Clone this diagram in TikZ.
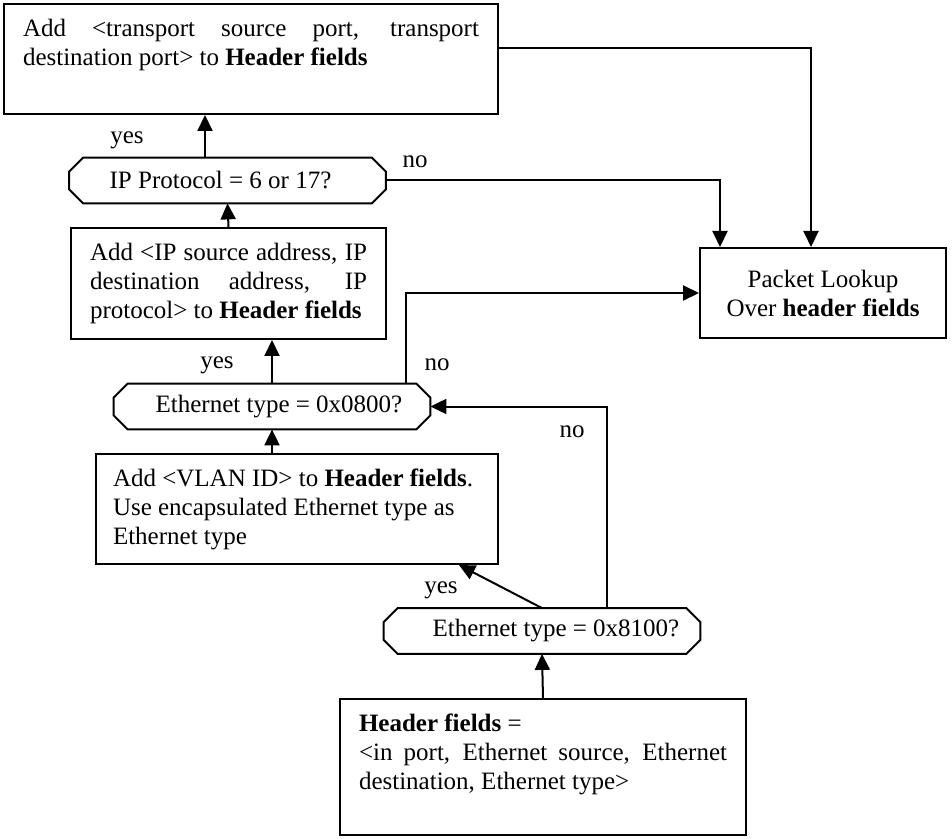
\documentclass[tikz,border=0pt]{standalone}
\usepackage{fontspec}
\setmainfont{Liberation Serif}
\usetikzlibrary{arrows.meta}
\hyphenpenalty=10000

% octagon round a test node
\newcommand{\octa}[1]{\draw[line width=1pt] ([xshift=7pt]#1.north west) -- ([xshift=-7pt]#1.north east)
    -- ([yshift=-7pt]#1.north east) -- ([yshift=7pt]#1.south east) -- ([xshift=-7pt]#1.south east)
    -- ([xshift=7pt]#1.south west) -- ([yshift=7pt]#1.south west) -- ([yshift=-7pt]#1.north west) -- cycle;}

\begin{document}
\begin{tikzpicture}[x=0.5pt,y=-0.5pt,
        font=\fontsize{12.5pt}{14.5pt}\selectfont,
        box/.style={draw, line width=1pt, anchor=north west, inner xsep=9.5pt, inner ysep=7.5pt},
        test/.style={minimum width=158pt, minimum height=22.5pt, inner sep=0pt},
        arr/.style={line width=1pt, -{Triangle[length=8pt,width=7.5pt]}},
        lbl/.style={inner sep=0pt}]
        \useasboundingbox (0,0) rectangle (952,839);

        \node[box] (hdr) at (3,3) {\parbox[t][40pt][t]{228pt}{Add <transport source port,
            transport destination port> to \textbf{Header fields}}};
        \node[test] (d1) at (227.5,180.5) {IP Protocol = 6 or 17?\hspace*{7pt}};
        \node[box] (ipb) at (70,227) {\parbox[t][40.5pt][t]{138.5pt}{Add <IP source address,
            IP\linebreak destination address, IP protocol> to \textbf{Header fields}}};
        \node[test] (d2) at (272,406.5) {\hspace*{7pt}Ethernet type = 0x0800?};
        \node[box, inner xsep=8.5pt] (vlan) at (95,453) {\parbox[t][40pt][t]{184pt}{\raggedright
            Add <VLAN ID> to \textbf{Header fields}.\\
            Use encapsulated Ethernet type as\\
            Ethernet type}};
        \node[test] (d3) at (542,631) {\hspace*{14pt}Ethernet type = 0x8100?};
        \node[box] (hf) at (339,698) {\parbox[t][53pt][t]{184pt}{\textbf{Header fields} =\\
            <in port, Ethernet source, Ethernet destination, Ethernet type>}};
        \node[draw, line width=1pt, minimum width=123pt, minimum height=45pt, align=center]
            (pkt) at (823,293) {Packet Lookup\\Over \textbf{header fields}};

        \octa{d1}
        \octa{d2}
        \octa{d3}

        \draw[arr] (hf.north) -- (d3.south);
        \draw[arr] (d3.north) -- ([xshift=81pt]vlan.south);
        \draw[arr] ([xshift=32.5pt]d3.north) |- (d2.east);
        \draw[arr] (d2.south |- vlan.north) -- (d2.south);
        \draw[arr] (d2.north) -- (d2.north |- ipb.south);
        \draw[arr] ([xshift=67pt]d2.north) |- (pkt.west);
        \draw[arr] (ipb.north) -- (d1.south);
        \draw[arr] ([xshift=-11.25pt]d1.north) -- ([xshift=-11.25pt]d1.north |- hdr.south);
        \draw[arr] (d1.east) -| ([xshift=-51.5pt]pkt.north);
        \draw[arr] ([yshift=5.5pt]hdr.east) -| ([xshift=-6pt]pkt.north);

        % yes / no
        \node[lbl] (y1) at (127,140) {yes};
        \node[lbl] (n1) at (415,162) {no};
        \node[lbl] (y2) at (217,365) {yes};
        \node[lbl] (n2) at (437,365) {no};
        \node[lbl] (y3) at (441,590) {yes};
        \node[lbl] (n3) at (572,432) {no};
\end{tikzpicture}
\end{document}
